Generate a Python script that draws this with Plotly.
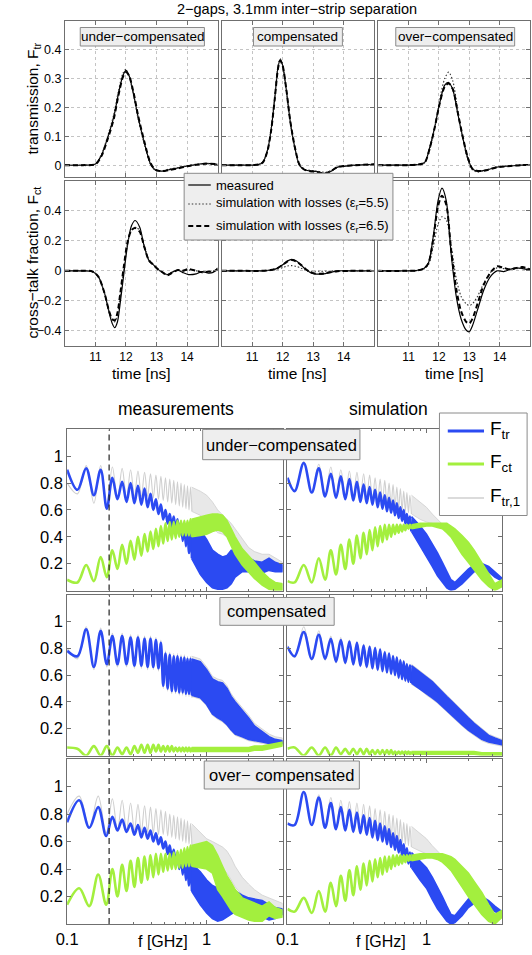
import math
import plotly.graph_objects as go

W, H = 532, 955
FONT = "Liberation Sans, Arial, Helvetica, sans-serif"
BLUE = "#2b4af2"
GREEN = "#a3ef3e"
GRAY = "#cfcfcf"
GRAY_FILL = "#e8e8e8"
FRAME = "#6f6f6f"

# ======================= time-domain data =======================
TITLE = "2\u2212gaps, 3.1mm inter\u2212strip separation"
CASES = ["under\u2212compensated", "compensated", "over\u2212compensated"]
TIME_TICKS = [11, 12, 13, 14]
TR_TICKS = [0, 0.1, 0.2, 0.3, 0.4]
CT_TICKS = [-0.4, -0.2, 0, 0.2, 0.4]

T_TR_UNDER = [10.0, 10.6, 11.0, 11.2, 11.4, 11.6, 11.75, 11.9, 12.0, 12.1, 12.25, 12.4, 12.6, 12.8, 12.95, 13.15, 13.4, 13.7, 14.0, 14.3, 14.6, 15.0]
TR_UNDER_MEAS = [0.0, 0.0, 0.004, 0.035, 0.095, 0.167, 0.245, 0.31, 0.328, 0.31, 0.245, 0.165, 0.078, 0.005, -0.016, -0.021, -0.016, -0.01, -0.003, 0.002, 0.006, 0.003]
TR_UNDER_SIM55 = [0.0, 0.0, 0.005, 0.038, 0.1, 0.175, 0.255, 0.318, 0.332, 0.308, 0.24, 0.158, 0.072, 0.003, -0.017, -0.02, -0.014, -0.008, -0.002, 0.003, 0.005, 0.003]
TR_UNDER_SIM65 = [0.0, 0.0, 0.003, 0.032, 0.09, 0.16, 0.24, 0.305, 0.322, 0.31, 0.25, 0.17, 0.082, 0.008, -0.015, -0.021, -0.017, -0.011, -0.004, 0.001, 0.005, 0.003]

T_TR_COMP = [10.0, 10.6, 11.0, 11.2, 11.35, 11.5, 11.62, 11.74, 11.85, 11.92, 12.0, 12.12, 12.25, 12.4, 12.55, 12.7, 12.9, 13.1, 13.3, 13.45, 13.6, 13.8, 14.0, 14.4, 14.8, 15.0]
TR_COMP_MEAS = [0.0, 0.0, 0.0, 0.002, 0.01, 0.05, 0.12, 0.23, 0.34, 0.365, 0.345, 0.26, 0.15, 0.06, 0.0, -0.015, -0.02, -0.022, -0.028, -0.028, -0.02, -0.007, -0.004, 0.0, 0.002, 0.003]
TR_COMP_SIM55 = [0.0, 0.0, 0.0, 0.002, 0.011, 0.052, 0.125, 0.235, 0.345, 0.368, 0.345, 0.255, 0.145, 0.056, 0.0, -0.014, -0.018, -0.02, -0.024, -0.024, -0.018, -0.006, -0.003, 0.0, 0.002, 0.003]
TR_COMP_SIM65 = [0.0, 0.0, 0.0, 0.002, 0.009, 0.048, 0.118, 0.228, 0.336, 0.362, 0.344, 0.262, 0.152, 0.062, 0.002, -0.015, -0.021, -0.023, -0.028, -0.027, -0.019, -0.006, -0.003, 0.0, 0.002, 0.003]

T_TR_OVER = [10.0, 10.6, 11.0, 11.3, 11.45, 11.55, 11.7, 11.86, 12.02, 12.19, 12.32, 12.46, 12.62, 12.78, 12.94, 13.1, 13.27, 13.45, 13.6, 13.9, 14.35, 14.7, 15.0]
TR_OVER_MEAS = [0.0, 0.0, 0.0, 0.002, 0.005, 0.012, 0.063, 0.132, 0.213, 0.277, 0.286, 0.26, 0.178, 0.097, 0.028, -0.013, -0.021, -0.019, -0.016, -0.007, -0.003, 0.0, 0.0]
TR_OVER_SIM55 = [0.0, 0.0, 0.0, 0.002, 0.004, 0.01, 0.055, 0.13, 0.225, 0.30, 0.322, 0.29, 0.19, 0.095, 0.022, -0.016, -0.024, -0.02, -0.015, -0.006, -0.002, 0.0, 0.0]
TR_OVER_SIM65 = [0.0, 0.0, 0.0, 0.002, 0.005, 0.012, 0.06, 0.13, 0.212, 0.272, 0.283, 0.262, 0.182, 0.1, 0.03, -0.012, -0.02, -0.02, -0.017, -0.008, -0.003, 0.0, 0.0]

T_CT_UNDER = [10.0, 10.5, 10.9, 11.1, 11.3, 11.45, 11.55, 11.63, 11.72, 11.82, 11.93, 12.05, 12.18, 12.3, 12.45, 12.6, 12.75, 12.9, 13.05, 13.2, 13.35, 13.5, 13.7, 13.85, 14.05, 14.3, 14.5, 14.7, 14.85, 15.0]
CT_UNDER_MEAS = [0.0, 0.0, -0.004, -0.04, -0.15, -0.28, -0.35, -0.378, -0.34, -0.2, -0.02, 0.17, 0.3, 0.335, 0.29, 0.16, 0.07, 0.04, 0.01, -0.01, -0.025, -0.01, 0.005, -0.01, -0.025, -0.02, -0.005, -0.015, -0.01, 0.02]
CT_UNDER_SIM55 = [0.0, 0.0, -0.004, -0.04, -0.15, -0.27, -0.33, -0.34, -0.29, -0.15, 0.02, 0.18, 0.27, 0.29, 0.27, 0.17, 0.075, 0.04, 0.01, -0.01, -0.025, -0.012, 0.005, 0.0, 0.005, 0.0, -0.008, -0.005, -0.005, 0.01]
CT_UNDER_SIM65 = [0.0, 0.0, -0.004, -0.04, -0.15, -0.27, -0.32, -0.33, -0.28, -0.14, 0.03, 0.19, 0.27, 0.285, 0.26, 0.16, 0.07, 0.04, 0.01, -0.01, -0.03, -0.015, 0.005, 0.0, 0.012, 0.0, -0.01, -0.005, -0.005, 0.01]

T_CT_COMP = [10.0, 10.8, 11.3, 11.6, 11.8, 12.0, 12.15, 12.3, 12.45, 12.6, 12.75, 12.9, 13.05, 13.2, 13.4, 13.6, 13.8, 14.2, 14.6, 15.0]
CT_COMP_MEAS = [0.0, 0.0, 0.0, 0.005, 0.015, 0.04, 0.065, 0.077, 0.065, 0.04, 0.01, -0.01, -0.02, -0.022, -0.018, -0.008, 0.0, 0.0, 0.0, 0.0]
CT_COMP_SIM55 = [0.0, 0.0, 0.0, 0.004, 0.01, 0.022, 0.032, 0.035, 0.03, 0.018, 0.005, -0.002, -0.003, -0.003, -0.003, -0.002, 0.0, 0.0, 0.0, 0.0]
CT_COMP_SIM65 = [0.0, 0.0, 0.0, 0.005, 0.015, 0.04, 0.062, 0.072, 0.062, 0.04, 0.012, -0.008, -0.018, -0.02, -0.016, -0.008, -0.002, 0.0, 0.0, 0.0]

T_CT_OVER = [10.0, 10.8, 11.3, 11.5, 11.65, 11.81, 11.97, 12.1, 12.24, 12.4, 12.57, 12.73, 12.9, 13.0, 13.1, 13.27, 13.48, 13.7, 13.91, 14.13, 14.35, 14.56, 14.75, 15.0]
CT_OVER_MEAS = [0.0, 0.0, 0.003, 0.015, 0.05, 0.226, 0.467, 0.55, 0.467, 0.116, -0.17, -0.32, -0.395, -0.405, -0.367, -0.26, -0.125, -0.037, 0.0, -0.005, 0.01, 0.02, 0.015, 0.005]
CT_OVER_SIM55 = [0.0, 0.0, 0.003, 0.012, 0.04, 0.16, 0.31, 0.36, 0.34, 0.17, -0.05, -0.17, -0.22, -0.23, -0.22, -0.17, -0.08, -0.01, 0.02, 0.015, 0.01, 0.015, 0.02, 0.01]
CT_OVER_SIM65 = [0.0, 0.0, 0.003, 0.015, 0.05, 0.21, 0.43, 0.5, 0.44, 0.14, -0.12, -0.27, -0.34, -0.35, -0.32, -0.22, -0.09, -0.01, 0.03, 0.02, 0.01, 0.02, 0.025, 0.01]

# ======================= frequency-domain data =======================
# frequencies [GHz] of the successive maxima / minima of the ripples (read off)
F_EXT_M = [0.100, 0.1185, 0.137, 0.1555, 0.174, 0.1925, 0.211, 0.2295, 0.248, 0.2665, 0.285, 0.3035, 0.322, 0.3405, 0.359, 0.3775, 0.396, 0.4145, 0.433, 0.4515, 0.470, 0.4885, 0.507, 0.5255, 0.544, 0.5625, 0.581, 0.5995, 0.618, 0.6365, 0.655, 0.6735, 0.692, 0.7105, 0.729, 0.7475, 0.766, 0.7845]
F_EXT_M3 = [0.100, 0.122, 0.144, 0.167, 0.1905, 0.211, 0.2295, 0.248, 0.2665, 0.285, 0.3035, 0.322, 0.3405, 0.359, 0.3775, 0.396, 0.4145, 0.433, 0.4515, 0.470, 0.4885, 0.507, 0.5255, 0.544, 0.5625, 0.581, 0.5995, 0.618, 0.6365, 0.655, 0.6735, 0.692, 0.7105, 0.729, 0.7475, 0.766, 0.7845]
F_EXT_S = [0.100, 0.1125, 0.131, 0.1495, 0.168, 0.1865, 0.205, 0.2235, 0.242, 0.2605, 0.279, 0.2975, 0.316, 0.3345, 0.353, 0.3715, 0.390, 0.4085, 0.427, 0.4455, 0.464, 0.4825, 0.501, 0.5195, 0.538, 0.5565, 0.575, 0.5935, 0.612, 0.6305, 0.649, 0.6675, 0.686, 0.7045, 0.723, 0.7415, 0.760, 0.7785]
# frequencies [GHz] where the dense ripple band edges were read
F_BAND = [0.78, 0.9, 1.0, 1.1, 1.2, 1.3, 1.4, 1.5, 1.6, 1.8, 2.0, 2.2, 2.5, 2.8, 3.1, 3.5]
F_MARK = 0.2
F_TICKS = [0.1, 1]
F_MINOR = [0.2, 0.3, 0.4, 0.5, 0.6, 0.7, 0.8, 0.9, 2, 3]
FY_TICKS = [0.2, 0.4, 0.6, 0.8, 1.0]

# ---- measurements, under-compensated ----
M1_TR_PK = [0.90, 0.91, 0.90, 0.84, 0.81, 0.80, 0.78, 0.76, 0.72, 0.68, 0.64, 0.60, 0.57, 0.55, 0.53, 0.51, 0.50, 0.49, 0.48]
M1_TR_TR = [0.75, 0.71, 0.61, 0.68, 0.66, 0.65, 0.64, 0.62, 0.60, 0.57, 0.53, 0.50, 0.47, 0.44, 0.41, 0.37, 0.33, 0.28, 0.24]
M1_CT_PK = [0.08, 0.19, 0.25, 0.30, 0.34, 0.37, 0.40, 0.42, 0.44, 0.46, 0.48, 0.50, 0.51, 0.51, 0.52, 0.52, 0.52, 0.52, 0.53]
M1_CT_TR = [0.06, 0.07, 0.10, 0.16, 0.20, 0.23, 0.26, 0.29, 0.31, 0.33, 0.35, 0.37, 0.38, 0.39, 0.40, 0.41, 0.41, 0.41, 0.40]
M1_T1_PK = [0.80, 0.93, 0.93, 0.92, 0.91, 0.90, 0.89, 0.88, 0.87, 0.86, 0.85, 0.84, 0.83, 0.82, 0.81, 0.80, 0.79, 0.78, 0.77]
M1_T1_TR = [0.72, 0.65, 0.64, 0.68, 0.69, 0.70, 0.70, 0.70, 0.69, 0.68, 0.67, 0.66, 0.65, 0.64, 0.63, 0.62, 0.61, 0.60, 0.59]
M1_TR_HI = [0.48, 0.45, 0.38, 0.30, 0.27, 0.25, 0.26, 0.30, 0.30, 0.27, 0.24, 0.22, 0.21, 0.24, 0.21, 0.19]
M1_TR_LO = [0.24, 0.12, 0.06, 0.02, 0.01, 0.01, 0.02, 0.05, 0.10, 0.14, 0.14, 0.13, 0.13, 0.15, 0.14, 0.14]
M1_CT_HI = [0.53, 0.55, 0.56, 0.57, 0.57, 0.56, 0.52, 0.46, 0.40, 0.31, 0.26, 0.21, 0.14, 0.09, 0.06, 0.05]
M1_CT_LO = [0.40, 0.41, 0.42, 0.44, 0.45, 0.44, 0.40, 0.33, 0.27, 0.19, 0.14, 0.09, 0.04, 0.01, 0.00, 0.00]
M1_T1_HI = [0.77, 0.74, 0.71, 0.66, 0.60, 0.56, 0.53, 0.50, 0.46, 0.38, 0.32, 0.29, 0.27, 0.27, 0.24, 0.21]
M1_T1_LO = [0.59, 0.56, 0.52, 0.47, 0.43, 0.42, 0.40, 0.35, 0.31, 0.25, 0.21, 0.19, 0.18, 0.19, 0.18, 0.16]

# ---- simulation, under-compensated ----
S1_TR_PK = [0.84, 0.95, 0.91, 0.87, 0.85, 0.83, 0.81, 0.79, 0.77, 0.75, 0.73, 0.71, 0.69, 0.67, 0.65, 0.62, 0.60, 0.57, 0.55]
S1_TR_TR = [0.74, 0.73, 0.70, 0.69, 0.68, 0.67, 0.66, 0.65, 0.64, 0.62, 0.61, 0.59, 0.58, 0.56, 0.54, 0.52, 0.50, 0.47, 0.44]
S1_CT_PK = [0.07, 0.19, 0.24, 0.30, 0.34, 0.38, 0.41, 0.43, 0.45, 0.47, 0.48, 0.49, 0.49, 0.49, 0.49, 0.49, 0.49, 0.49, 0.49]
S1_CT_TR = [0.06, 0.06, 0.08, 0.12, 0.16, 0.20, 0.24, 0.27, 0.30, 0.33, 0.36, 0.38, 0.40, 0.42, 0.43, 0.44, 0.45, 0.46, 0.46]
S1_T1_PK = [0.84, 0.96, 0.94, 0.92, 0.90, 0.89, 0.88, 0.87, 0.86, 0.84, 0.83, 0.82, 0.80, 0.79, 0.77, 0.76, 0.74, 0.73, 0.71]
S1_T1_TR = [0.74, 0.73, 0.71, 0.70, 0.70, 0.69, 0.69, 0.68, 0.67, 0.66, 0.65, 0.64, 0.63, 0.62, 0.61, 0.60, 0.59, 0.58, 0.57]
S1_TR_HI = [0.55, 0.48, 0.42, 0.35, 0.28, 0.21, 0.14, 0.08, 0.06, 0.11, 0.16, 0.19, 0.20, 0.18, 0.14, 0.09]
S1_TR_LO = [0.44, 0.33, 0.25, 0.18, 0.11, 0.06, 0.02, 0.00, 0.01, 0.05, 0.10, 0.14, 0.16, 0.14, 0.10, 0.07]
S1_CT_HI = [0.49, 0.50, 0.50, 0.50, 0.50, 0.50, 0.50, 0.48, 0.46, 0.41, 0.36, 0.30, 0.21, 0.12, 0.05, 0.08]
S1_CT_LO = [0.46, 0.47, 0.48, 0.48, 0.47, 0.46, 0.43, 0.40, 0.36, 0.27, 0.21, 0.15, 0.08, 0.03, 0.00, 0.03]
S1_T1_HI = [0.71, 0.66, 0.62, 0.57, 0.53, 0.50, 0.46, 0.43, 0.40, 0.34, 0.29, 0.24, 0.18, 0.14, 0.11, 0.08]
S1_T1_LO = [0.57, 0.53, 0.51, 0.50, 0.49, 0.47, 0.45, 0.42, 0.39, 0.33, 0.28, 0.23, 0.17, 0.13, 0.10, 0.07]

# ---- measurements, compensated ----
M2_TR_PK = [0.78, 0.94, 0.93, 0.89, 0.89, 0.88, 0.88, 0.87, 0.87, 0.86, 0.84, 0.76, 0.75, 0.74, 0.74, 0.73, 0.73, 0.72, 0.72]
M2_TR_TR = [0.74, 0.66, 0.68, 0.68, 0.68, 0.67, 0.67, 0.66, 0.66, 0.65, 0.52, 0.50, 0.48, 0.48, 0.47, 0.47, 0.46, 0.46, 0.45]
M2_CT_PK = [0.06, 0.00, 0.00, 0.00, 0.01, 0.01, 0.02, 0.02, 0.02, 0.03, 0.03, 0.03, 0.03, 0.03, 0.03, 0.03, 0.03, 0.03, 0.03]
M2_CT_TR = [0.05, 0.07, 0.07, 0.06, 0.06, 0.07, 0.08, 0.08, 0.08, 0.08, 0.07, 0.07, 0.07, 0.06, 0.06, 0.06, 0.06, 0.06, 0.06]
M2_T1_PK = [0.80, 0.96, 0.95, 0.91, 0.91, 0.90, 0.90, 0.89, 0.89, 0.88, 0.86, 0.78, 0.77, 0.76, 0.76, 0.75, 0.75, 0.74, 0.74]
M2_T1_TR = [0.72, 0.64, 0.66, 0.66, 0.66, 0.65, 0.65, 0.64, 0.64, 0.63, 0.50, 0.48, 0.46, 0.46, 0.45, 0.45, 0.44, 0.44, 0.43]
M2_TR_HI = [0.72, 0.70, 0.64, 0.57, 0.55, 0.54, 0.50, 0.44, 0.40, 0.34, 0.28, 0.22, 0.18, 0.14, 0.12, 0.11]
M2_TR_LO = [0.45, 0.43, 0.38, 0.31, 0.28, 0.26, 0.23, 0.19, 0.16, 0.14, 0.12, 0.11, 0.10, 0.09, 0.09, 0.09]
M2_CT_HI = [0.06, 0.06, 0.06, 0.06, 0.06, 0.06, 0.06, 0.06, 0.06, 0.06, 0.06, 0.07, 0.07, 0.08, 0.09, 0.10]
M2_CT_LO = [0.03, 0.03, 0.03, 0.03, 0.03, 0.03, 0.03, 0.03, 0.03, 0.03, 0.03, 0.04, 0.04, 0.05, 0.06, 0.07]
M2_T1_HI = [0.74, 0.72, 0.66, 0.59, 0.57, 0.56, 0.52, 0.46, 0.42, 0.36, 0.30, 0.24, 0.20, 0.16, 0.14, 0.13]
M2_T1_LO = [0.44, 0.42, 0.37, 0.30, 0.27, 0.25, 0.22, 0.18, 0.15, 0.13, 0.11, 0.10, 0.09, 0.08, 0.08, 0.08]

# ---- simulation, compensated ----
S2_TR_PK = [0.81, 0.92, 0.90, 0.87, 0.86, 0.85, 0.84, 0.82, 0.81, 0.80, 0.79, 0.77, 0.76, 0.74, 0.73, 0.71, 0.70, 0.68, 0.67]
S2_TR_TR = [0.74, 0.72, 0.72, 0.70, 0.69, 0.68, 0.67, 0.66, 0.65, 0.64, 0.63, 0.62, 0.61, 0.60, 0.58, 0.57, 0.56, 0.55, 0.54]
S2_CT_PK = [0.05, 0.00, 0.00, 0.00, 0.01, 0.01, 0.01, 0.01, 0.01, 0.01, 0.01, 0.01, 0.01, 0.01, 0.01, 0.01, 0.01, 0.01, 0.01]
S2_CT_TR = [0.06, 0.06, 0.06, 0.06, 0.05, 0.05, 0.05, 0.05, 0.04, 0.04, 0.04, 0.04, 0.04, 0.03, 0.03, 0.03, 0.03, 0.03, 0.03]
S2_T1_PK = [0.82, 0.96, 0.93, 0.89, 0.88, 0.86, 0.85, 0.83, 0.82, 0.81, 0.80, 0.78, 0.77, 0.75, 0.74, 0.72, 0.71, 0.69, 0.68]
S2_T1_TR = [0.73, 0.71, 0.71, 0.69, 0.68, 0.67, 0.66, 0.65, 0.64, 0.63, 0.62, 0.61, 0.60, 0.59, 0.57, 0.56, 0.55, 0.54, 0.53]
S2_TR_HI = [0.67, 0.62, 0.58, 0.55, 0.51, 0.47, 0.44, 0.41, 0.38, 0.33, 0.28, 0.24, 0.19, 0.15, 0.13, 0.11]
S2_TR_LO = [0.54, 0.50, 0.46, 0.43, 0.40, 0.37, 0.34, 0.31, 0.28, 0.23, 0.19, 0.16, 0.12, 0.10, 0.09, 0.08]
S2_CT_HI = [0.03, 0.03, 0.03, 0.03, 0.03, 0.03, 0.03, 0.03, 0.03, 0.03, 0.03, 0.03, 0.02, 0.02, 0.02, 0.02]
S2_CT_LO = [0.01, 0.01, 0.01, 0.01, 0.01, 0.01, 0.01, 0.01, 0.01, 0.01, 0.01, 0.01, 0.00, 0.00, 0.00, 0.00]
S2_T1_HI = [0.68, 0.63, 0.59, 0.56, 0.52, 0.48, 0.45, 0.42, 0.39, 0.34, 0.29, 0.25, 0.20, 0.16, 0.14, 0.12]
S2_T1_LO = [0.53, 0.49, 0.45, 0.42, 0.39, 0.36, 0.33, 0.30, 0.27, 0.22, 0.18, 0.15, 0.11, 0.09, 0.08, 0.07]

# ---- measurements, over-compensated (first value is a minimum) ----
M3_TR_TR = [0.74, 0.70, 0.64, 0.68, 0.67, 0.65, 0.63, 0.62, 0.60, 0.58, 0.55, 0.51, 0.47, 0.43, 0.40, 0.36, 0.32, 0.28, 0.24]
M3_TR_PK = [0.90, 0.85, 0.78, 0.76, 0.73, 0.72, 0.70, 0.68, 0.66, 0.63, 0.60, 0.57, 0.54, 0.52, 0.50, 0.48, 0.46, 0.44]
M3_CT_TR = [0.14, 0.13, 0.14, 0.20, 0.24, 0.27, 0.30, 0.32, 0.34, 0.36, 0.38, 0.39, 0.40, 0.40, 0.41, 0.41, 0.42, 0.42, 0.42]
M3_CT_PK = [0.26, 0.36, 0.40, 0.43, 0.46, 0.48, 0.49, 0.50, 0.51, 0.51, 0.51, 0.51, 0.52, 0.53, 0.54, 0.55, 0.56, 0.57]
M3_T1_TR = [0.80, 0.70, 0.66, 0.68, 0.68, 0.68, 0.67, 0.67, 0.66, 0.65, 0.65, 0.64, 0.63, 0.62, 0.61, 0.60, 0.59, 0.58, 0.57]
M3_T1_PK = [0.93, 0.93, 0.91, 0.90, 0.88, 0.87, 0.86, 0.85, 0.84, 0.83, 0.82, 0.80, 0.79, 0.78, 0.77, 0.76, 0.75, 0.73]
M3_TR_HI = [0.44, 0.38, 0.32, 0.28, 0.26, 0.25, 0.25, 0.26, 0.24, 0.21, 0.19, 0.18, 0.17, 0.14, 0.12, 0.11]
M3_TR_LO = [0.24, 0.14, 0.08, 0.04, 0.02, 0.03, 0.05, 0.07, 0.09, 0.11, 0.11, 0.08, 0.05, 0.03, 0.04, 0.07]
M3_CT_HI = [0.57, 0.59, 0.60, 0.57, 0.50, 0.42, 0.35, 0.30, 0.25, 0.19, 0.17, 0.15, 0.13, 0.16, 0.12, 0.10]
M3_CT_LO = [0.42, 0.41, 0.40, 0.37, 0.25, 0.20, 0.15, 0.10, 0.07, 0.05, 0.03, 0.02, 0.02, 0.06, 0.04, 0.05]
M3_T1_HI = [0.73, 0.67, 0.62, 0.60, 0.58, 0.56, 0.53, 0.48, 0.42, 0.34, 0.29, 0.25, 0.21, 0.19, 0.17, 0.15]
M3_T1_LO = [0.57, 0.49, 0.44, 0.42, 0.41, 0.40, 0.37, 0.32, 0.27, 0.21, 0.17, 0.14, 0.12, 0.11, 0.11, 0.10]

# ---- simulation, over-compensated ----
S3_TR_PK = [0.73, 0.96, 0.92, 0.88, 0.85, 0.83, 0.81, 0.79, 0.77, 0.75, 0.73, 0.71, 0.69, 0.66, 0.64, 0.61, 0.58, 0.55, 0.52]
S3_TR_TR = [0.72, 0.72, 0.70, 0.69, 0.68, 0.67, 0.66, 0.65, 0.63, 0.61, 0.60, 0.58, 0.56, 0.54, 0.52, 0.50, 0.47, 0.44, 0.41]
S3_CT_PK = [0.11, 0.19, 0.24, 0.30, 0.35, 0.39, 0.42, 0.44, 0.46, 0.47, 0.48, 0.49, 0.49, 0.50, 0.50, 0.50, 0.50, 0.50, 0.50]
S3_CT_TR = [0.09, 0.08, 0.09, 0.13, 0.17, 0.21, 0.25, 0.28, 0.31, 0.34, 0.36, 0.38, 0.40, 0.42, 0.43, 0.44, 0.45, 0.46, 0.46]
S3_T1_PK = [0.74, 0.96, 0.94, 0.92, 0.90, 0.89, 0.88, 0.87, 0.86, 0.84, 0.83, 0.82, 0.80, 0.79, 0.77, 0.76, 0.74, 0.73, 0.71]
S3_T1_TR = [0.72, 0.72, 0.71, 0.70, 0.70, 0.69, 0.68, 0.67, 0.66, 0.65, 0.64, 0.63, 0.62, 0.61, 0.60, 0.59, 0.58, 0.57, 0.56]
S3_TR_HI = [0.52, 0.46, 0.41, 0.34, 0.27, 0.20, 0.13, 0.07, 0.06, 0.12, 0.18, 0.20, 0.20, 0.17, 0.13, 0.09]
S3_TR_LO = [0.41, 0.32, 0.26, 0.18, 0.11, 0.06, 0.02, 0.00, 0.01, 0.06, 0.12, 0.15, 0.16, 0.13, 0.09, 0.07]
S3_CT_HI = [0.50, 0.51, 0.51, 0.51, 0.51, 0.51, 0.50, 0.49, 0.47, 0.42, 0.37, 0.31, 0.23, 0.14, 0.07, 0.10]
S3_CT_LO = [0.46, 0.47, 0.48, 0.48, 0.47, 0.45, 0.42, 0.39, 0.35, 0.27, 0.20, 0.14, 0.07, 0.02, 0.00, 0.05]
S3_T1_HI = [0.71, 0.66, 0.62, 0.57, 0.53, 0.50, 0.46, 0.43, 0.40, 0.34, 0.29, 0.24, 0.18, 0.14, 0.11, 0.08]
S3_T1_LO = [0.56, 0.53, 0.51, 0.50, 0.49, 0.47, 0.45, 0.42, 0.39, 0.33, 0.28, 0.23, 0.17, 0.13, 0.10, 0.07]


def weave(even, odd):
    out = []
    for i in range(len(even) + len(odd)):
        out.append(even[i // 2] if i % 2 == 0 else odd[i // 2])
    return out


# ======================= layout geometry (pixels) =======================
TX = [(55, 211), (215, 371), (375, 530)]
TY = [(20.7, 176.7), (180.7, 346)]
FX = [(57.3, 277.3), (282.3, 501.5)]
FY = [(429.4, 590.5), (594.5, 755.5), (759, 924)]

DOT = "1.5px,2px"
DASH = "5px,3px"


def px(v):
    return v / W


def py(v):
    return 1 - v / H


def ax_name(i, letter):
    return letter + ("" if i == 1 else str(i))


fig = go.Figure()
layout = {}
common = dict(showline=True, linecolor=FRAME, linewidth=1, mirror="ticks", ticks="inside",
              ticklen=4, tickcolor=FRAME, zeroline=False)

# ---------- time-domain axes ----------
time_sets = [
    [(T_TR_UNDER, TR_UNDER_MEAS, TR_UNDER_SIM55, TR_UNDER_SIM65),
     (T_TR_COMP, TR_COMP_MEAS, TR_COMP_SIM55, TR_COMP_SIM65),
     (T_TR_OVER, TR_OVER_MEAS, TR_OVER_SIM55, TR_OVER_SIM65)],
    [(T_CT_UNDER, CT_UNDER_MEAS, CT_UNDER_SIM55, CT_UNDER_SIM65),
     (T_CT_COMP, CT_COMP_MEAS, CT_COMP_SIM55, CT_COMP_SIM65),
     (T_CT_OVER, CT_OVER_MEAS, CT_OVER_SIM55, CT_OVER_SIM65)],
]

for r in range(2):
    for c in range(3):
        i = r * 3 + c + 1
        xa = dict(common, domain=[px(TX[c][0]), px(TX[c][1])], range=[10, 15],
                  tickmode="array", tickvals=TIME_TICKS, ticktext=[str(t) for t in TIME_TICKS],
                  showticklabels=(r == 1), showgrid=True, gridcolor="#c4c4c4", griddash="dot",
                  gridwidth=1, anchor=ax_name(i, "y"), tickfont=dict(size=12))
        if r == 0:
            yr, yt = [-0.04, 0.5], TR_TICKS
        else:
            yr, yt = [-0.5, 0.6], CT_TICKS
        ya = dict(common, domain=[py(TY[r][1]), py(TY[r][0])], range=yr, tickmode="array",
                  tickvals=yt, ticktext=[("\u2212" + str(abs(v)) if v < 0 else str(v)) for v in yt],
                  showticklabels=(c == 0), showgrid=True, gridcolor="#c4c4c4", griddash="dot",
                  gridwidth=1, anchor=ax_name(i, "x"), tickfont=dict(size=12.5))
        layout[ax_name(i, "xaxis")] = xa
        layout[ax_name(i, "yaxis")] = ya
        t, meas, s55, s65 = time_sets[r][c]
        xr, yrn = ax_name(i, "x"), ax_name(i, "y")
        fig.add_trace(go.Scatter(x=t, y=meas, mode="lines", xaxis=xr, yaxis=yrn,
                                 line=dict(color="black", width=1.2, shape="spline", smoothing=0.8)))
        fig.add_trace(go.Scatter(x=t, y=s55, mode="lines", xaxis=xr, yaxis=yrn,
                                 line=dict(color="#333333", width=1.1, dash=DOT, shape="spline", smoothing=0.8)))
        fig.add_trace(go.Scatter(x=t, y=s65, mode="lines", xaxis=xr, yaxis=yrn,
                                 line=dict(color="black", width=2.0, dash=DASH, shape="spline", smoothing=0.8)))

# ---------- frequency-domain axes ----------
panels = [
    [(F_EXT_M, weave(M1_TR_PK, M1_TR_TR), weave(M1_CT_PK, M1_CT_TR), weave(M1_T1_PK, M1_T1_TR),
      M1_TR_HI, M1_TR_LO, M1_CT_HI, M1_CT_LO, M1_T1_HI, M1_T1_LO),
     (F_EXT_S, weave(S1_TR_PK, S1_TR_TR), weave(S1_CT_PK, S1_CT_TR), weave(S1_T1_PK, S1_T1_TR),
      S1_TR_HI, S1_TR_LO, S1_CT_HI, S1_CT_LO, S1_T1_HI, S1_T1_LO)],
    [(F_EXT_M, weave(M2_TR_PK, M2_TR_TR), weave(M2_CT_PK, M2_CT_TR), weave(M2_T1_PK, M2_T1_TR),
      M2_TR_HI, M2_TR_LO, M2_CT_HI, M2_CT_LO, M2_T1_HI, M2_T1_LO),
     (F_EXT_S, weave(S2_TR_PK, S2_TR_TR), weave(S2_CT_PK, S2_CT_TR), weave(S2_T1_PK, S2_T1_TR),
      S2_TR_HI, S2_TR_LO, S2_CT_HI, S2_CT_LO, S2_T1_HI, S2_T1_LO)],
    [(F_EXT_M3, weave(M3_TR_TR, M3_TR_PK), weave(M3_CT_TR, M3_CT_PK), weave(M3_T1_TR, M3_T1_PK),
      M3_TR_HI, M3_TR_LO, M3_CT_HI, M3_CT_LO, M3_T1_HI, M3_T1_LO),
     (F_EXT_S, weave(S3_TR_PK, S3_TR_TR), weave(S3_CT_PK, S3_CT_TR), weave(S3_T1_PK, S3_T1_TR),
      S3_TR_HI, S3_TR_LO, S3_CT_HI, S3_CT_LO, S3_T1_HI, S3_T1_LO)],
]


def band(xr, yrn, hi, lo, fillc, linec, lw):
    fig.add_trace(go.Scatter(x=F_BAND + F_BAND[::-1], y=hi + lo[::-1], mode="lines",
                             fill="toself", fillcolor=fillc, xaxis=xr, yaxis=yrn,
                             line=dict(color=linec, width=lw)))


for r in range(3):
    for c in range(2):
        i = 7 + r * 2 + c
        xa = dict(common, domain=[px(FX[c][0]), px(FX[c][1])], type="log",
                  range=[-1, math.log10(3.5)], tickmode="array", tickvals=F_TICKS,
                  ticktext=["0.1", "1"], showticklabels=(r == 2), showgrid=False,
                  anchor=ax_name(i, "y"), tickfont=dict(size=16.5),
                  minor=dict(tickmode="array", tickvals=F_MINOR, ticks="inside", ticklen=2,
                             tickcolor=FRAME, showgrid=False))
        ya = dict(common, domain=[py(FY[r][1]), py(FY[r][0])], range=[0, 1.2], tickmode="array",
                  tickvals=FY_TICKS, ticktext=["0.2", "0.4", "0.6", "0.8", "1"],
                  showticklabels=(c == 0), showgrid=False, anchor=ax_name(i, "x"),
                  tickfont=dict(size=16.5))
        layout[ax_name(i, "xaxis")] = xa
        layout[ax_name(i, "yaxis")] = ya
        grid, tr, ct, t1, trh, trl, cth, ctl, t1h, t1l = panels[r][c]
        xr, yrn = ax_name(i, "x"), ax_name(i, "y")
        band(xr, yrn, t1h, t1l, GRAY_FILL, GRAY, 0.8)
        fig.add_trace(go.Scatter(x=grid, y=t1, mode="lines", xaxis=xr, yaxis=yrn,
                                 line=dict(color=GRAY, width=1.1, shape="spline", smoothing=1.0)))
        fig.add_trace(go.Scatter(x=grid, y=tr, mode="lines", xaxis=xr, yaxis=yrn,
                                 line=dict(color=BLUE, width=2.6, shape="spline", smoothing=1.0)))
        band(xr, yrn, trh, trl, BLUE, BLUE, 1.6)
        fig.add_trace(go.Scatter(x=grid, y=ct, mode="lines", xaxis=xr, yaxis=yrn,
                                 line=dict(color=GREEN, width=2.6, shape="spline", smoothing=1.0)))
        band(xr, yrn, cth, ctl, GREEN, GREEN, 1.6)
        if c == 0:
            fig.add_trace(go.Scatter(x=[F_MARK, F_MARK], y=[0, 1.2], mode="lines", xaxis=xr, yaxis=yrn,
                                     line=dict(color="#222222", width=1.2, dash="6px,4px")))

# ---------- annotations & decorative shapes ----------
ann = []
shapes = []


def text(x, y, s, size, **kw):
    d = dict(x=px(x), y=py(y), xref="paper", yref="paper", text=s, showarrow=False,
             font=dict(size=size, color="black", family=FONT), xanchor="center", yanchor="middle")
    d.update(kw)
    ann.append(d)


def rect(x0, y0, x1, y1, fill, line="#8a8a8a"):
    shapes.append(dict(type="rect", xref="paper", yref="paper", x0=px(x0), x1=px(x1),
                       y0=py(y1), y1=py(y0), fillcolor=fill, line=dict(color=line, width=1),
                       layer="above"))


def hline(x0, x1, y, color, width, dash="solid"):
    shapes.append(dict(type="line", xref="paper", yref="paper", x0=px(x0), x1=px(x1),
                       y0=py(y), y1=py(y), line=dict(color=color, width=width, dash=dash),
                       layer="above"))


text(292, 9, TITLE, 14.5)
text(22, 99, "transmission, F<sub>tr</sub>", 15.5, textangle=-90)
text(22, 263, "cross\u2212talk fraction, F<sub>ct</sub>", 15.5, textangle=-90)
for c, (x0, x1) in enumerate([(70.7, 197.5), (247.6, 338.4), (392.9, 514.3)]):
    rect(x0, 27.5, x1, 46, "#eeeeee")
    text((x0 + x1) / 2, 36.8, CASES[c], 13.5)
for c in range(3):
    text((TX[c][0] + TX[c][1]) / 2, 374, "time [ns]", 15.5)

# time legend
rect(176.8, 173.3, 390, 240, "#eeeeee")
hline(181, 204, 185, "black", 1.2)
hline(181, 204, 204, "#333333", 1.1, DOT)
hline(181, 204, 226, "black", 2.0, DASH)
text(207, 185, "measured", 13, xanchor="left")
text(207, 204, "simulation with losses (\u03b5<sub>r</sub>=5.5)", 13, xanchor="left")
text(207, 226, "simulation with losses (\u03b5<sub>r</sub>=6.5)", 13, xanchor="left")

# frequency section
text(168.4, 408.5, "measurements", 17.5)
text(385.4, 408.5, "simulation", 17.5)
rect(195.7, 429.4, 356.3, 459.7, "#eeeeee")
text(276, 444.5, "under\u2212compensated", 16.5)
rect(213.3, 597.5, 330, 625.3, "#eeeeee")
text(271.6, 611.4, "compensated", 16.5)
rect(197.3, 761, 355.7, 789, "#eeeeee")
text(276.5, 775, "over\u2212 compensated", 16.5)
text(155, 941, "f [GHz]", 16)
text(378, 941, "f [GHz]", 16)

# frequency legend
rect(437.5, 413, 527, 515.5, "white", "#8a8a8a")
hline(446, 483, 431, BLUE, 3)
hline(446, 483, 464, GREEN, 3)
hline(446, 483, 498, GRAY, 1.3)
text(487, 430, "F<sub>tr</sub>", 19, xanchor="left")
text(487, 463, "F<sub>ct</sub>", 19, xanchor="left")
text(487, 497, "F<sub>tr,1</sub>", 19, xanchor="left")

fig.update_layout(
    width=W, height=H, margin=dict(l=0, r=0, t=0, b=0), showlegend=False,
    paper_bgcolor="white", plot_bgcolor="white",
    font=dict(family=FONT, color="black"),
    annotations=ann, shapes=shapes, **layout,
)

fig.write_html("out.html", config={"displayModeBar": False, "staticPlot": True},
               post_script="document.body.style.margin='0px';document.body.style.overflow='hidden';")
